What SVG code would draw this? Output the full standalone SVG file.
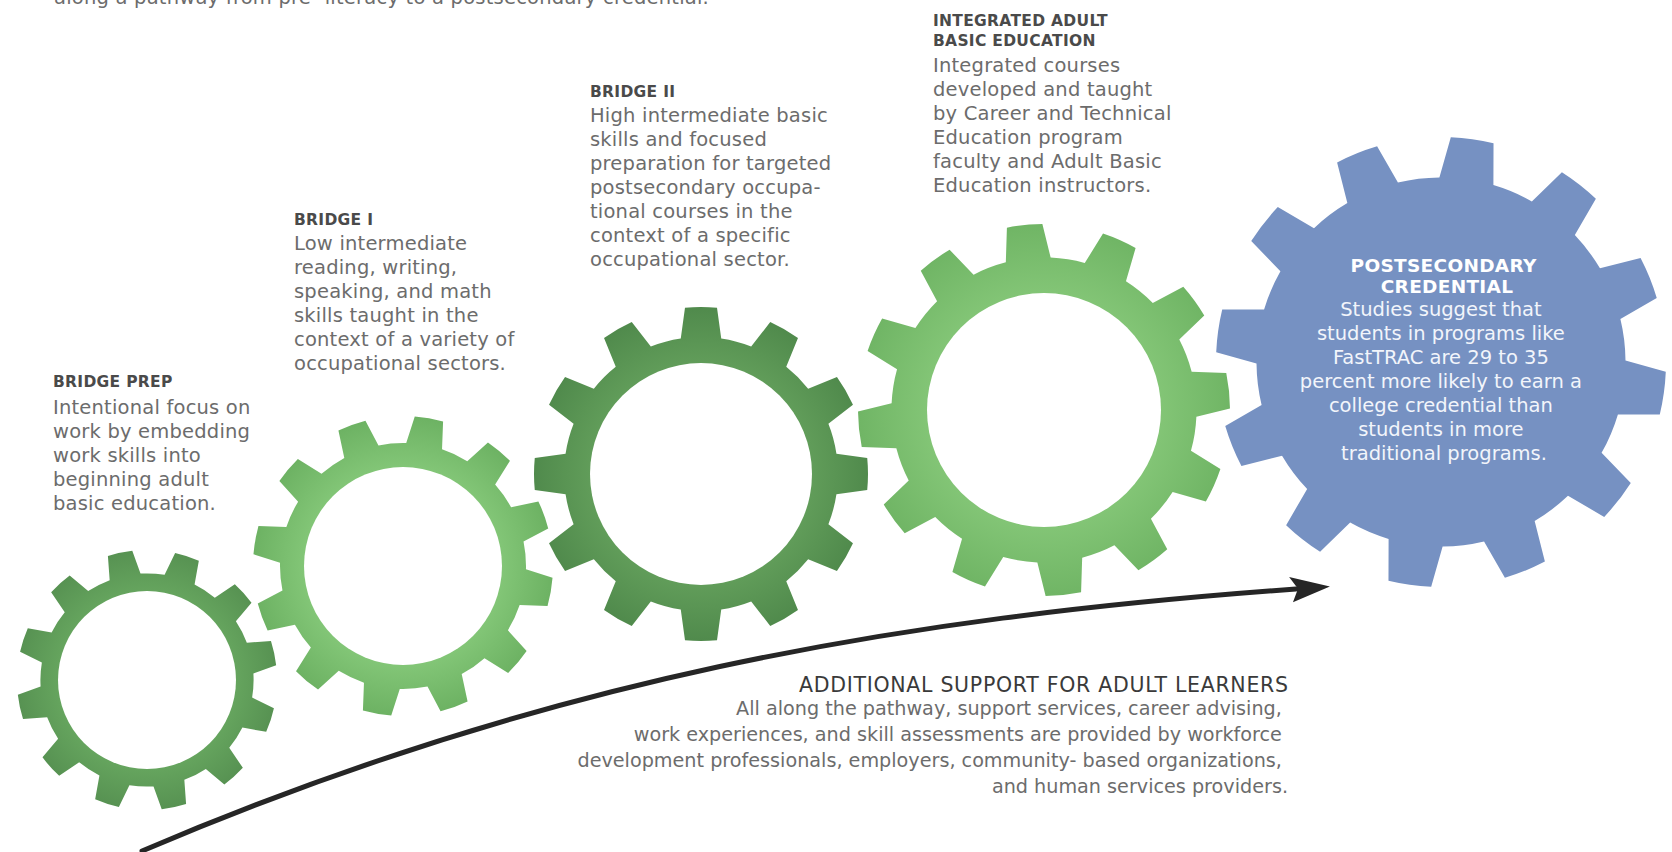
<svg xmlns="http://www.w3.org/2000/svg" xmlns:xlink="http://www.w3.org/1999/xlink" width="1672" height="852" viewBox="0 0 1672 852">
<style>
text { font-family: "DejaVu Sans", "Liberation Sans", sans-serif; }
.h { font-weight: bold; font-size: 15.5px; fill: #4a4a4a; letter-spacing: 0.3px; }
.b { font-size: 19.5px; fill: #6c6c6c; letter-spacing: 0.2px; }
.s { font-size: 19.2px; fill: #6c6c6c; }
.wt { font-weight: bold; font-size: 18.5px; fill: #ffffff; letter-spacing: 0.3px; }
.wb { font-size: 19.5px; fill: #f2f5fb; }
.ah { font-size: 20.5px; fill: #3a3a3a; }
.hole { fill: #ffffff; }
.arrow { fill: none; stroke: #262626; stroke-width: 5; stroke-linecap: round; }
</style>
<defs>
  <path id="gear" d="M -12.12 -81.10 L -9.585 -99.54 A 100 100 0 0 1 9.585 -99.54 L 12.12 -81.10 A 82 82 0 0 1 30.05 -76.29 L 41.47 -91.00 A 100 100 0 0 1 58.07 -81.41 L 51.05 -64.17 A 82 82 0 0 1 64.17 -51.05 L 81.41 -58.07 A 100 100 0 0 1 91.00 -41.47 L 76.29 -30.05 A 82 82 0 0 1 81.10 -12.12 L 99.54 -9.585 A 100 100 0 0 1 99.54 9.585 L 81.10 12.12 A 82 82 0 0 1 76.29 30.05 L 91.00 41.47 A 100 100 0 0 1 81.41 58.07 L 64.17 51.05 A 82 82 0 0 1 51.05 64.17 L 58.07 81.41 A 100 100 0 0 1 41.47 91.00 L 30.05 76.29 A 82 82 0 0 1 12.12 81.10 L 9.585 99.54 A 100 100 0 0 1 -9.585 99.54 L -12.12 81.10 A 82 82 0 0 1 -30.05 76.29 L -41.47 91.00 A 100 100 0 0 1 -58.07 81.41 L -51.05 64.17 A 82 82 0 0 1 -64.17 51.05 L -81.41 58.07 A 100 100 0 0 1 -91.00 41.47 L -76.29 30.05 A 82 82 0 0 1 -81.10 12.12 L -99.54 9.585 A 100 100 0 0 1 -99.54 -9.585 L -81.10 -12.12 A 82 82 0 0 1 -76.29 -30.05 L -91.00 -41.47 A 100 100 0 0 1 -81.41 -58.07 L -64.17 -51.05 A 82 82 0 0 1 -51.05 -64.17 L -58.07 -81.41 A 100 100 0 0 1 -41.47 -91.00 L -30.05 -76.29 A 82 82 0 0 1 -12.12 -81.10 Z"/>
  <radialGradient id="g1" cx="0.5" cy="0.5" r="0.5">
    <stop offset="0.6" stop-color="#69a961"/>
    <stop offset="1" stop-color="#579252"/>
  </radialGradient>
  <radialGradient id="g2" cx="0.5" cy="0.5" r="0.5">
    <stop offset="0.6" stop-color="#86c97a"/>
    <stop offset="1" stop-color="#6db263"/>
  </radialGradient>
  <radialGradient id="g3" cx="0.5" cy="0.5" r="0.5">
    <stop offset="0.6" stop-color="#64a05c"/>
    <stop offset="1" stop-color="#508a4c"/>
  </radialGradient>
  <radialGradient id="g4" cx="0.5" cy="0.5" r="0.5">
    <stop offset="0.6" stop-color="#84c677"/>
    <stop offset="1" stop-color="#70b565"/>
  </radialGradient>
  <marker id="head" markerUnits="userSpaceOnUse" markerWidth="44" markerHeight="30" viewBox="0 0 44 30" refX="6" refY="15" orient="auto">
    <path d="M 0 2.5 L 40 15 L 2 28 L 8 15 Z" fill="#262626"/>
  </marker>
</defs>

<text class="b" x="54" y="4" textLength="655" lengthAdjust="spacing">along a pathway from pre- literacy to a postsecondary credential.</text>

<g id="connectors">
  <path class="arrow" d="M 142 851 C 542 680, 895 618, 1296 589" marker-end="url(#head)"/>
</g>

<g id="bridge-prep">
  <use xlink:href="#gear" href="#gear" fill="url(#g1)" transform="translate(147 680) rotate(-12) scale(1.30)"/>
  <circle class="hole" cx="147" cy="680" r="89"/>
  <text class="h" x="53" y="387">BRIDGE PREP</text>
  <text class="b">
    <tspan x="53" y="414">Intentional focus on</tspan>
    <tspan x="53" y="438">work by embedding</tspan>
    <tspan x="53" y="462">work skills into</tspan>
    <tspan x="53" y="486">beginning adult</tspan>
    <tspan x="53" y="510">basic education.</tspan>
  </text>
</g>

<g id="bridge-1">
  <use xlink:href="#gear" href="#gear" fill="url(#g2)" transform="translate(403 566) rotate(10) scale(1.50)"/>
  <circle class="hole" cx="403" cy="566" r="99"/>
  <text class="h" x="294" y="225">BRIDGE I</text>
  <text class="b">
    <tspan x="294" y="250">Low intermediate</tspan>
    <tspan x="294" y="274">reading, writing,</tspan>
    <tspan x="294" y="298">speaking, and math</tspan>
    <tspan x="294" y="322">skills taught in the</tspan>
    <tspan x="294" y="346">context of a variety of</tspan>
    <tspan x="294" y="370">occupational sectors.</tspan>
  </text>
</g>

<g id="bridge-2">
  <use xlink:href="#gear" href="#gear" fill="url(#g3)" transform="translate(701 474) rotate(0) scale(1.67)"/>
  <circle class="hole" cx="701" cy="474" r="111"/>
  <text class="h" x="590" y="97">BRIDGE II</text>
  <text class="b">
    <tspan x="590" y="122">High intermediate basic</tspan>
    <tspan x="590" y="146">skills and focused</tspan>
    <tspan x="590" y="170">preparation for targeted</tspan>
    <tspan x="590" y="194">postsecondary occupa-</tspan>
    <tspan x="590" y="218">tional courses in the</tspan>
    <tspan x="590" y="242">context of a specific</tspan>
    <tspan x="590" y="266">occupational sector.</tspan>
  </text>
</g>

<g id="integrated-abe">
  <use xlink:href="#gear" href="#gear" fill="url(#g4)" transform="translate(1044 410) rotate(-6) scale(1.86)"/>
  <circle class="hole" cx="1044" cy="410" r="117"/>
  <text class="h">
    <tspan x="933" y="26">INTEGRATED ADULT</tspan>
    <tspan x="933" y="46">BASIC EDUCATION</tspan>
  </text>
  <text class="b">
    <tspan x="933" y="72">Integrated courses</tspan>
    <tspan x="933" y="96">developed and taught</tspan>
    <tspan x="933" y="120">by Career and Technical</tspan>
    <tspan x="933" y="144">Education program</tspan>
    <tspan x="933" y="168">faculty and Adult Basic</tspan>
    <tspan x="933" y="192">Education instructors.</tspan>
  </text>
</g>

<g id="postsecondary-credential">
  <use xlink:href="#gear" href="#gear" fill="#7691c2" transform="translate(1441 362) rotate(8) scale(2.25)"/>
  <text class="wt" text-anchor="middle">
    <tspan x="1447" y="272">POSTSECONDARY</tspan>
    <tspan x="1447" y="293">CREDENTIAL</tspan>
  </text>
  <text class="wb" text-anchor="middle">
    <tspan x="1444" y="316">Studies suggest that</tspan>
    <tspan x="1444" y="340">students in programs like</tspan>
    <tspan x="1444" y="364">FastTRAC are 29 to 35</tspan>
    <tspan x="1444" y="388">percent more likely to earn a</tspan>
    <tspan x="1444" y="412">college credential than</tspan>
    <tspan x="1444" y="436">students in more</tspan>
    <tspan x="1444" y="460">traditional programs.</tspan>
  </text>
</g>

<g id="additional-support">
  <text class="ah" x="1288" y="692" text-anchor="end" textLength="489" lengthAdjust="spacing">ADDITIONAL SUPPORT FOR ADULT LEARNERS</text>
  <text class="s" text-anchor="end">
    <tspan x="1288" y="715">All along the pathway, support services, career advising,</tspan>
    <tspan x="1288" y="741">work experiences, and skill assessments are provided by workforce</tspan>
    <tspan x="1288" y="767">development professionals, employers, community- based organizations,</tspan>
    <tspan x="1288" y="793">and human services providers.</tspan>
  </text>
</g>
</svg>
